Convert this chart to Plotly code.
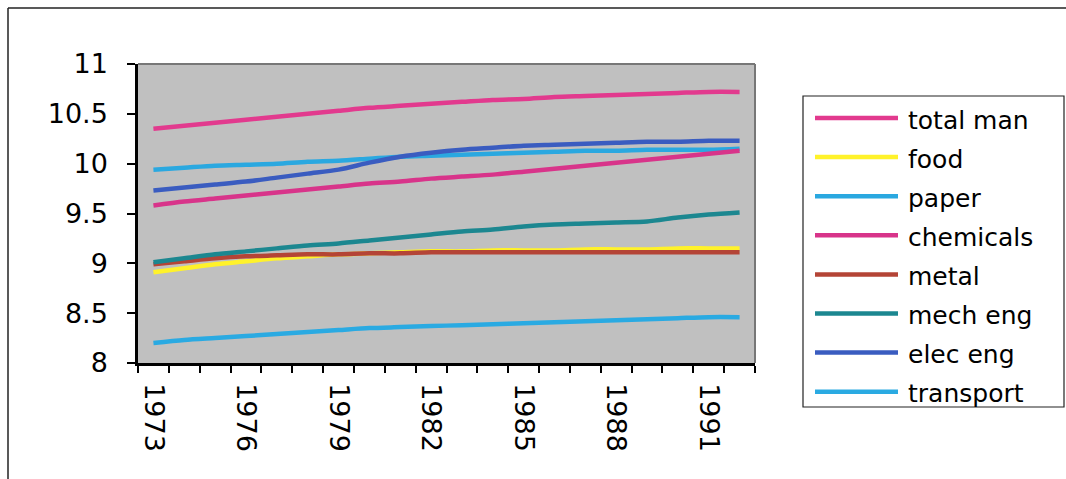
import plotly.graph_objects as go

years = list(range(1973, 1993))

total_man = [10.35, 10.38, 10.41, 10.44, 10.47, 10.50, 10.53, 10.56, 10.58, 10.60,
             10.62, 10.64, 10.65, 10.67, 10.68, 10.69, 10.70, 10.71, 10.72, 10.72]
food = [8.91, 8.95, 8.99, 9.02, 9.05, 9.07, 9.09, 9.10, 9.11, 9.12,
        9.12, 9.13, 9.13, 9.13, 9.14, 9.14, 9.14, 9.15, 9.15, 9.15]
paper = [9.94, 9.96, 9.98, 9.99, 10.00, 10.02, 10.03, 10.05, 10.07, 10.08,
         10.09, 10.10, 10.11, 10.12, 10.13, 10.13, 10.14, 10.14, 10.14, 10.15]
chemicals = [9.58, 9.62, 9.65, 9.68, 9.71, 9.74, 9.77, 9.80, 9.82, 9.85,
             9.87, 9.89, 9.92, 9.95, 9.98, 10.01, 10.04, 10.07, 10.10, 10.13]
metal = [8.99, 9.02, 9.05, 9.07, 9.08, 9.09, 9.09, 9.10, 9.10, 9.11,
         9.11, 9.11, 9.11, 9.11, 9.11, 9.11, 9.11, 9.11, 9.11, 9.11]
mech_eng = [9.01, 9.05, 9.09, 9.12, 9.15, 9.18, 9.20, 9.23, 9.26, 9.29,
            9.32, 9.34, 9.37, 9.39, 9.40, 9.41, 9.42, 9.46, 9.49, 9.51]
elec_eng = [9.73, 9.76, 9.79, 9.82, 9.86, 9.90, 9.94, 10.01, 10.07, 10.11,
            10.14, 10.16, 10.18, 10.19, 10.20, 10.21, 10.22, 10.22, 10.23, 10.23]
transport = [8.20, 8.23, 8.25, 8.27, 8.29, 8.31, 8.33, 8.35, 8.36, 8.37,
             8.38, 8.39, 8.40, 8.41, 8.42, 8.43, 8.44, 8.45, 8.46, 8.46]

series_names = ["total man", "food", "paper", "chemicals", "metal",
                "mech eng", "elec eng", "transport"]
series_values = [total_man, food, paper, chemicals, metal, mech_eng, elec_eng, transport]
series_colors = ["#E23A8E", "#FFF22A", "#2AA8E0", "#D8348A", "#B44436",
                 "#1C8790", "#3A5CC0", "#2AAAE2"]

label_years = [1973, 1976, 1979, 1982, 1985, 1988, 1991]
y_ticks = [8, 8.5, 9, 9.5, 10, 10.5, 11]

W, H = 1066, 479
L, R, T, B = 138, 755, 64, 363


def px(x):
    return (x - L) / (R - L)


def py(y):
    return (B - y) / (B - T)


fig = go.Figure()
for name, vals, col in zip(series_names, series_values, series_colors):
    fig.add_trace(go.Scatter(x=years, y=vals, mode="lines", name=name,
                             line=dict(color=col, width=4.5, shape="spline", smoothing=0.8),
                             showlegend=False))

boundaries = [y - 0.5 for y in years] + [years[-1] + 0.5]

shapes = []
# outer chart border (top and left visible)
shapes.append(dict(type="line", xref="paper", yref="paper",
                   x0=px(8), x1=px(1070), y0=py(8), y1=py(8),
                   line=dict(color="#222", width=1.5)))
shapes.append(dict(type="line", xref="paper", yref="paper",
                   x0=px(8), x1=px(8), y0=py(8), y1=py(485),
                   line=dict(color="#222", width=1.5)))
# plot area frame (top/right gray)
shapes.append(dict(type="line", xref="paper", yref="paper",
                   x0=0, x1=1, y0=1, y1=1, line=dict(color="#777", width=2)))
shapes.append(dict(type="line", xref="paper", yref="paper",
                   x0=1, x1=1, y0=0, y1=1, line=dict(color="#777", width=2)))
# legend box
shapes.append(dict(type="rect", xref="paper", yref="paper",
                   x0=px(803), x1=px(1064), y0=py(96), y1=py(407),
                   line=dict(color="#222", width=1.2), fillcolor="white"))

annotations = []
row0, rowstep = 118, 39.1
for i, (name, col) in enumerate(zip(series_names, series_colors)):
    yy = row0 + i * rowstep
    shapes.append(dict(type="line", xref="paper", yref="paper",
                       x0=px(815), x1=px(898), y0=py(yy), y1=py(yy),
                       line=dict(color=col, width=4.5)))
    annotations.append(dict(xref="paper", yref="paper", x=px(906), y=py(yy + 2),
                            text=name, showarrow=False, xanchor="left",
                            yanchor="middle",
                            font=dict(family="DejaVu Sans", size=25, color="black")))

fig.update_layout(
    width=W, height=H,
    margin=dict(l=L, r=W - R, t=T, b=H - B, pad=0),
    paper_bgcolor="white",
    plot_bgcolor="#C0C0C0",
    shapes=shapes,
    annotations=annotations,
    showlegend=False,
    font=dict(family="DejaVu Sans", color="black"),
)

fig.update_xaxes(
    range=[years[0] - 0.5, years[-1] + 0.5],
    tickmode="array", tickvals=label_years, ticktext=[str(v) for v in label_years],
    tickangle=90, ticks="outside", ticklen=0, tickcolor="black",
    ticklabelstandoff=12,
    minor=dict(tickmode="array", tickvals=boundaries, ticks="outside",
               ticklen=7, tickwidth=1.5, tickcolor="black", showgrid=False),
    showgrid=False, zeroline=False,
    showline=True, linecolor="black", linewidth=2.5,
    tickfont=dict(family="DejaVu Sans", size=27, color="black"),
)
fig.update_yaxes(
    range=[8, 11],
    tickmode="array", tickvals=y_ticks, ticktext=[f"{v:g}" for v in y_ticks],
    ticks="outside", ticklen=8, tickwidth=1.5, tickcolor="black",
    ticklabelstandoff=14,
    showgrid=False, zeroline=False,
    showline=True, linecolor="black", linewidth=2.5,
    tickfont=dict(family="DejaVu Sans", size=27, color="black"),
)

fig.write_html("out.html")
